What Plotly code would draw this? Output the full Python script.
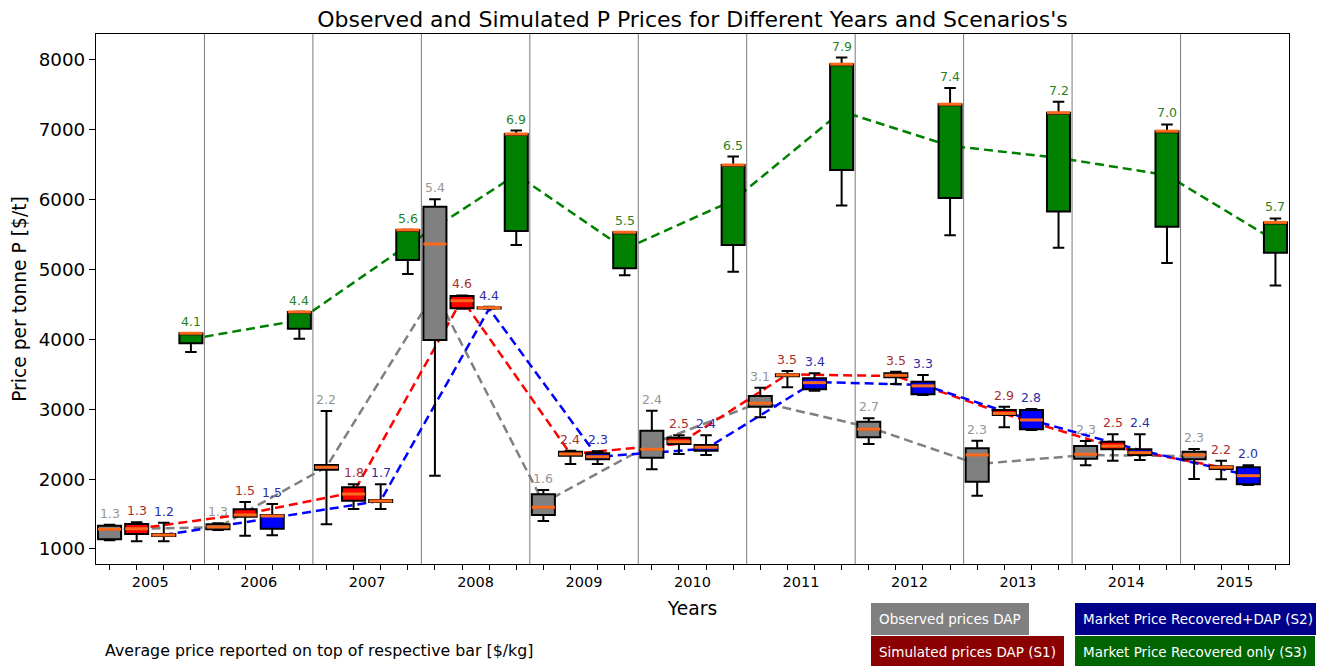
import plotly.graph_objects as go

years = ["2005", "2006", "2007", "2008", "2009", "2010", "2011", "2012", "2013", "2014", "2015"]
series_names = ["Observed prices DAP", "Simulated prices DAP (S1)",
                "Market Price Recovered+DAP (S2)", "Market Price Recovered only (S3)"]

# box statistics per series, one value per year  [$/t]
obs_low = [1124, 1270, 1353, 2049, 1401, 2141, 2885, 2503, 1763, 2198, 2002]
obs_q1 = [1139, 1282, 2135, 3992, 1487, 2307, 3037, 2599, 1963, 2293, 2284]
obs_med = [1282, 1315, 2170, 5366, 1597, 2427, 3086, 2714, 2346, 2356, 2346]
obs_q3 = [1333, 1353, 2202, 5900, 1783, 2694, 3190, 2822, 2441, 2474, 2393]
obs_high = [1347, 1368, 2975, 6006, 1845, 2980, 3309, 2871, 2550, 2546, 2431]
obs_mean = [1285, 1310, 2175, 4680, 1660, 2505, 3100, 2745, 2215, 2345, 2330]

s1_low = [1110, 1190, 1573, 4440, 2217, 2360, 3314, 3362, 2742, 2264, 1998]
s1_q1 = [1215, 1462, 1691, 4446, 2336, 2503, 3472, 3458, 2918, 2427, 2145]
s1_med = [1290, 1487, 1787, 4554, 2360, 2536, 3491, 3486, 2940, 2474, 2170]
s1_q3 = [1358, 1568, 1883, 4622, 2393, 2593, 3501, 3515, 2990, 2536, 2184]
s1_high = [1382, 1673, 1926, 4630, 2407, 2628, 3548, 3538, 3037, 2642, 2264]
s1_mean = [1290, 1500, 1810, 4575, 2360, 2505, 3500, 3475, 2935, 2465, 2170]

s2_low = [1110, 1196, 1573, 4438, 2217, 2346, 3266, 3205, 2703, 2274, 1916]
s2_q1 = [1185, 1290, 1672, 4442, 2284, 2407, 3286, 3215, 2713, 2346, 1926]
s2_med = [1200, 1472, 1687, 4454, 2321, 2456, 3381, 3335, 2847, 2379, 2049]
s2_q3 = [1215, 1487, 1702, 4462, 2370, 2489, 3444, 3395, 2990, 2427, 2170]
s2_high = [1376, 1644, 1926, 4466, 2400, 2628, 3515, 3491, 3004, 2642, 2198]
s2_mean = [1200, 1445, 1690, 4440, 2320, 2435, 3390, 3350, 2845, 2415, 2055]

s3_low = [3820, 4011, 4937, 5352, 4918, 4970, 5917, 5491, 5312, 5094, 4771]
s3_q1 = [3945, 4154, 5137, 5552, 5018, 5352, 6425, 6023, 5830, 5612, 5240]
s3_med = [4088, 4393, 5567, 6940, 5534, 6497, 7940, 7367, 7245, 6981, 5675]
s3_q3 = [4088, 4393, 5567, 6940, 5534, 6497, 7940, 7367, 7245, 6981, 5675]
s3_high = [4092, 4397, 5571, 6990, 5534, 6617, 8034, 7599, 7402, 7077, 5732]
s3_mean = [4005, 4275, 5350, 6360, 5295, 5990, 7265, 6770, 6600, 6350, 5410]

# average price reported on top of each box [$/kg]
obs_label = [1.3, 1.3, 2.2, 5.4, 1.6, 2.4, 3.1, 2.7, 2.3, 2.3, 2.3]
s1_label = [1.3, 1.5, 1.8, 4.6, 2.4, 2.5, 3.5, 3.5, 2.9, 2.5, 2.2]
s2_label = [1.2, 1.5, 1.7, 4.4, 2.3, 2.4, 3.4, 3.3, 2.8, 2.4, 2.0]
s3_label = [4.1, 4.4, 5.6, 6.9, 5.5, 6.5, 7.9, 7.4, 7.2, 7.0, 5.7]

stats = [
    (obs_low, obs_q1, obs_med, obs_q3, obs_high, obs_mean, obs_label),
    (s1_low, s1_q1, s1_med, s1_q3, s1_high, s1_mean, s1_label),
    (s2_low, s2_q1, s2_med, s2_q3, s2_high, s2_mean, s2_label),
    (s3_low, s3_q1, s3_med, s3_q3, s3_high, s3_mean, s3_label),
]
box_colors = ["gray", "red", "blue", "green"]
line_colors = ["gray", "red", "blue", "green"]
text_colors = ["rgb(150,150,150)", "rgb(170,45,45)", "rgb(45,45,170)", "rgb(40,130,40)"]
legend_bg = ["#808080", "#8b0000", "#00008b", "#006400"]

FONT = "DejaVu Sans"
n_years = len(years)
box_w = 0.85

fig = go.Figure()

for k, (lo, q1, med, q3, hi, mean, lab) in enumerate(stats):
    pos = [4 * i + k + 1 for i in range(n_years)]
    # mean line (drawn on the lower axes, below the boxes)
    fig.add_trace(go.Scatter(
        x=pos, y=mean, mode="lines",
        line=dict(color=line_colors[k], width=2.5, dash="9px,5px"),
        xaxis="x", yaxis="y", hoverinfo="skip",
    ))

for k, (lo, q1, med, q3, hi, mean, lab) in enumerate(stats):
    pos = [4 * i + k + 1 for i in range(n_years)]
    fig.add_trace(go.Box(
        x=pos, q1=q1, median=med, q3=q3, lowerfence=lo, upperfence=hi,
        fillcolor=box_colors[k], line=dict(color="black", width=2),
        width=box_w, whiskerwidth=0.5, boxpoints=False,
        xaxis="x2", yaxis="y2", name=series_names[k],
    ))

for k, (lo, q1, med, q3, hi, mean, lab) in enumerate(stats):
    pos = [4 * i + k + 1 for i in range(n_years)]
    mx, my = [], []
    for p, m in zip(pos, med):
        mx += [p - box_w / 2, p + box_w / 2, None]
        my += [m, m, None]
    fig.add_trace(go.Scatter(
        x=mx, y=my, mode="lines", line=dict(color="#fb6a1c", width=3),
        xaxis="x2", yaxis="y2", hoverinfo="skip",
    ))
    for p, h, v in zip(pos, hi, lab):
        fig.add_annotation(
            x=p, y=h, xref="x2", yref="y2", text=f"{v:.1f}", showarrow=False,
            yanchor="bottom", yshift=2,
            font=dict(family=FONT, size=12.5, color=text_colors[k]),
        )

# year separators
for i in range(n_years - 1):
    fig.add_shape(type="line", xref="x", yref="paper", x0=4 * i + 4.5, x1=4 * i + 4.5,
                  y0=0, y1=1, line=dict(color="#7a7a7a", width=1), layer="below")

x_range = [0.5, 4 * n_years + 0.5]
y_range = [785, 8372]

fig.update_layout(
    width=1316, height=658,
    margin=dict(l=88, r=35, t=26, b=102),
    plot_bgcolor="white", paper_bgcolor="white",
    showlegend=False, boxmode="overlay",
    font=dict(family=FONT, color="black"),
    title=dict(text="Observed and Simulated P Prices for Different Years and Scenarios's",
               x=0.5, xref="paper", xanchor="center", y=1 - 11.5 / 658, yanchor="middle",
               font=dict(family=FONT, size=22, color="black")),
    xaxis=dict(range=x_range, tickvals=list(range(1, 4 * n_years + 1)),
               ticktext=[""] * (4 * n_years), ticks="outside", ticklen=5, tickwidth=1.3,
               tickcolor="black", showline=True, linecolor="black", linewidth=1.3,
               mirror=True, showgrid=False, zeroline=False,
               title=dict(text="Years", font=dict(family=FONT, size=18.7), standoff=30)),
    xaxis2=dict(range=x_range, overlaying="x", anchor="y2", side="bottom",
                tickvals=[4 * i + 2.5 for i in range(n_years)], ticktext=years,
                ticks="outside", ticklen=5, tickcolor="rgba(0,0,0,0)",
                showline=False, showgrid=False, zeroline=False,
                tickfont=dict(family=FONT, size=14.5, color="black")),
    yaxis=dict(range=y_range, tickvals=list(range(1000, 8001, 1000)),
               ticks="outside", ticklen=6, tickwidth=1.3, tickcolor="black",
               showline=True, linecolor="black", linewidth=1.3, mirror=True,
               showgrid=False, zeroline=False,
               tickfont=dict(family=FONT, size=18.3, color="black"),
               title=dict(text="Price per tonne P [$/t]", font=dict(family=FONT, size=18.7),
                          standoff=7)),
    yaxis2=dict(range=y_range, overlaying="y", anchor="x2", visible=False),
)

# legend boxes and footnote (positions given in window pixels)
legend_pos = [(871, 619), (871, 652), (1075, 619), (1075, 652)]
for k, (lx, ly) in enumerate(legend_pos):
    fig.add_annotation(
        x=(lx - 96) / (1289 - 96), y=(564 - ly) / 530, xref="paper", yref="paper",
        xanchor="left", yanchor="middle", text=series_names[k], showarrow=False,
        bgcolor=legend_bg[k], bordercolor=legend_bg[k], borderwidth=1, borderpad=7,
        font=dict(family=FONT, size=13.5, color="white"),
    )
fig.add_annotation(
    x=(103 - 96) / (1289 - 96), y=(564 - 650) / 530, xref="paper", yref="paper",
    xanchor="left", yanchor="middle", showarrow=False,
    text="Average price reported on top of respective bar [$/kg]",
    font=dict(family=FONT, size=15.8, color="black"),
)

fig.write_html("out.html")
